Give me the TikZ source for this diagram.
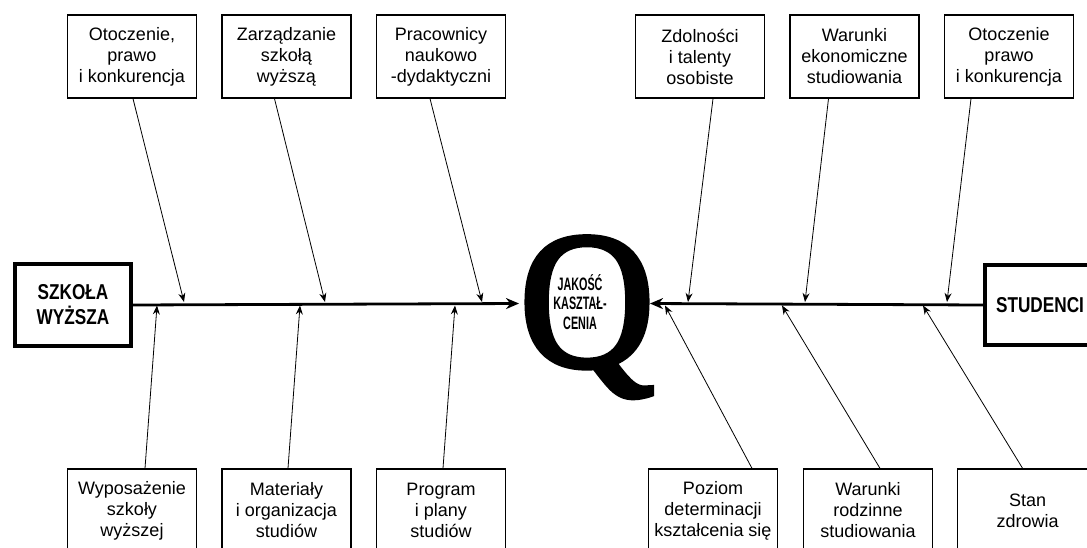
\documentclass[tikz,border=0pt]{standalone}
\usepackage{fontspec}
\setmainfont{Liberation Sans}
\newfontfamily\headfont[FakeStretch=0.8]{Liberation Sans Bold}
\newfontfamily\innerfont[FakeStretch=0.6]{Liberation Sans Bold}
\newfontfamily\qfont[FakeBold=2.8]{Liberation Serif}
\usetikzlibrary{arrows.meta,calc}

\begin{document}
\begin{tikzpicture}[x=1pt,y=-1pt,
  cause/.style={draw, line width=1.3pt, minimum width=129pt, minimum height=83pt,
    inner sep=0pt, align=center, font=\fontsize{18}{21}\selectfont},
  effect/.style={draw, line width=4pt, inner sep=0pt, align=center,
    font=\headfont\fontsize{21.5}{25}\selectfont},
  bone/.style={line width=0.8pt, -{Stealth[length=9pt,width=7pt]}},
  spine/.style={line width=2.8pt, -{Stealth[length=13pt,width=11pt]}}]

\clip (0,0) rectangle (1087,547);

% heads of the fish
\node[effect, minimum width=116pt, minimum height=82pt] (school) at (73,305) {SZKOŁA\\WYŻSZA};
\node[effect, minimum width=110pt, minimum height=80pt] (students) at (1040,305) {STUDENCI};

% the quality letter with its caption
\node[inner sep=0pt, anchor=base] (q) at (587,366)
  {\qfont\fontsize{195}{195}\selectfont\scalebox{0.96}[1]{Q}};
\node[inner sep=0pt, align=center, font=\innerfont\fontsize{18}{19.5}\selectfont]
  (qtext) at (580,302) {JAKOŚĆ\\KASZTAŁ-\\CENIA};

% upper causes
\node[cause] (t1) at (132,56.5) {Otoczenie,\\prawo\\i konkurencja};
\node[cause] (t2) at (286.5,56.5) {Zarządzanie\\szkołą\\wyższą};
\node[cause] (t3) at (441,56.5) {Pracownicy\\naukowo\\-dydaktyczni};
\node[cause] (t4) at (700,56.5) {Zdolności\\i talenty\\osobiste};
\node[cause] (t5) at (854.5,56.5) {Warunki\\ekonomiczne\\studiowania};
\node[cause] (t6) at (1009,56.5) {Otoczenie\\prawo\\i konkurencja};

% lower causes
\node[cause] (b1) at (132,510.5) {Wyposażenie\\szkoły\\wyższej};
\node[cause] (b2) at (286.5,510.5) {Materiały\\i organizacja\\studiów};
\node[cause] (b3) at (441,510.5) {Program\\i plany\\studiów};
\node[cause] (b4) at (713,510.5) {Poziom\\determinacji\\kształcenia się};
\node[cause] (b5) at (868,510.5) {Warunki\\rodzinne\\studiowania};
\node[cause, minimum width=140pt] (b6) at (1027.6,510.5) {Stan\\zdrowia};

% spine ends at the letter
\coordinate (qleft) at (519,303.5);
\coordinate (qright) at (650,303.5);
\draw[spine] (school.east) -- (qleft);
\draw[spine] (students.west) -- (qright);

% bone roots on the boxes
\coordinate (t1s) at ([xshift=1pt]t1.south);
\coordinate (t2s) at ([xshift=-12pt]t2.south);
\coordinate (t3s) at ([xshift=-11pt]t3.south);
\coordinate (t4s) at ([xshift=13pt]t4.south);
\coordinate (t5s) at ([xshift=-26pt]t5.south);
\coordinate (t6s) at ([xshift=-38pt]t6.south);
\coordinate (b1n) at ([xshift=13pt]b1.north);
\coordinate (b2n) at ([xshift=1.5pt]b2.north);
\coordinate (b3n) at ([xshift=2pt]b3.north);
\coordinate (b4n) at ([xshift=39pt]b4.north);
\coordinate (b5n) at ([xshift=12pt]b5.north);
\coordinate (b6n) at ([xshift=-5pt]b6.north);

% bone tips on the spine
\coordinate (t1e) at (184,302);
\coordinate (t2e) at (325,302);
\coordinate (t3e) at (482,302);
\coordinate (t4e) at (688,302);
\coordinate (t5e) at (805,302);
\coordinate (t6e) at (947,302);
\coordinate (b1e) at (157,305.5);
\coordinate (b2e) at (300,305.5);
\coordinate (b3e) at (455,305.5);
\coordinate (b4e) at (665,305.5);
\coordinate (b5e) at (782,305.5);
\coordinate (b6e) at (923,305.5);

\foreach \k in {t1,t2,t3,t4,t5,t6}{\draw[bone] (\k s) -- (\k e);}
\foreach \k in {b1,b2,b3,b4,b5,b6}{\draw[bone] (\k n) -- (\k e);}
\end{tikzpicture}
\end{document}
